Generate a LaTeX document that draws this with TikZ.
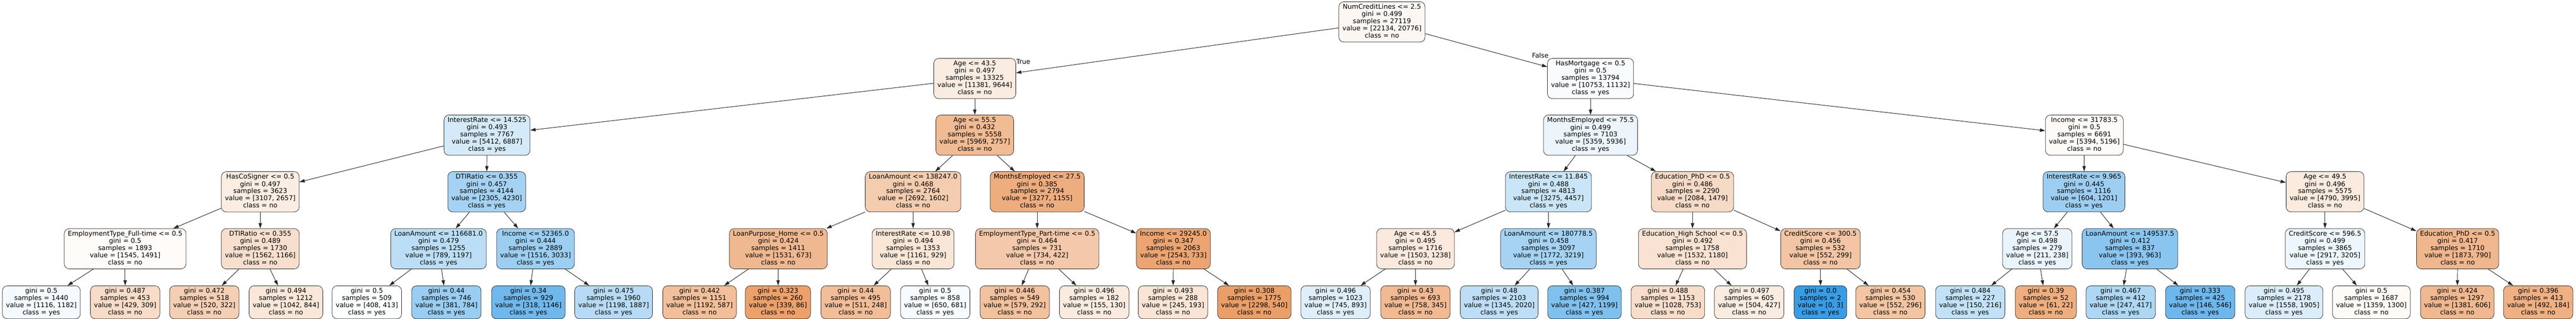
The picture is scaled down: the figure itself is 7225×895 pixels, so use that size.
\documentclass[tikz,border=0pt]{standalone}
\usepackage{fontspec}
\usepackage{xfp}
\setmainfont{DejaVu Sans}
\usetikzlibrary{arrows.meta}
\definecolor{cno}{RGB}{229,129,57}
\definecolor{cyes}{RGB}{57,157,229}
\tikzset{
  treenode/.style={draw=black!85, line width=1.1pt, rounded corners=14pt, align=center,
    inner xsep=10pt, inner ysep=6pt, anchor=north, font=\fontsize{18.5}{20}\selectfont},
  edgeline/.style={draw=black!85, line width=1.4pt, -{Triangle[length=15pt,width=9.5pt]}},
  edgelbl/.style={font=\fontsize{18.5}{20}\selectfont, inner sep=0pt}
}
% split node: name, x, top, condition, gini, samples, a, b
\newcommand\splitnode[8]{%
  \ifnum#7<#8\relax\def\cls{yes}\colorlet{tmpc}{cyes}\else\def\cls{no}\colorlet{tmpc}{cno}\fi
  \edef\alp{\fpeval{round(100*abs(#7-#8)/max(#7,#8),2)}}%
  \colorlet{nodefill}{tmpc!\alp!white}%
  \node[treenode, fill=nodefill] (#1) at (#2pt,-#3pt)
    {\strut#4\\gini = #5\\samples = #6\\value = [#7, #8]\\class = \cls\strut};
}
% leaf node: name, x, gini, samples, a, b
\newcommand\leafnode[6]{%
  \ifnum#5<#6\relax\def\cls{yes}\colorlet{tmpc}{cyes}\else\def\cls{no}\colorlet{tmpc}{cno}\fi
  \edef\alp{\fpeval{round(100*abs(#5-#6)/max(#5,#6),2)}}%
  \colorlet{nodefill}{tmpc!\alp!white}%
  \node[treenode, fill=nodefill] (#1) at (#2pt,-802pt)
    {\strut gini = #3\\samples = #4\\value = [#5, #6]\\class = \cls\strut};
}
\begin{document}
\begin{tikzpicture}
\fill[white] (0pt,0pt) rectangle (7225pt,-895pt);
\useasboundingbox (0pt,0pt) rectangle (7225pt,-895pt);
% level 0
\splitnode{root}{3876}{4.5}{NumCreditLines <= 2.5}{0.499}{27119}{22134}{20776}
% level 1
\splitnode{agea}{2734}{163.5}{Age <= 43.5}{0.497}{13325}{11381}{9644}
\splitnode{hasmort}{4461}{163.5}{HasMortgage <= 0.5}{0.5}{13794}{10753}{11132}
% level 2
\splitnode{ira}{1366}{322.5}{InterestRate <= 14.525}{0.493}{7767}{5412}{6887}
\splitnode{ageb}{2734}{322.5}{Age <= 55.5}{0.432}{5558}{5969}{2757}
\splitnode{mea}{4461}{322.5}{MonthsEmployed <= 75.5}{0.499}{7103}{5359}{5936}
\splitnode{inca}{5846}{322.5}{Income <= 31783.5}{0.5}{6691}{5394}{5196}
% level 3
\splitnode{hcs}{730}{481.5}{HasCoSigner <= 0.5}{0.497}{3623}{3107}{2657}
\splitnode{dtia}{1365}{481.5}{DTIRatio <= 0.355}{0.457}{4144}{2305}{4230}
\splitnode{laa}{2561}{481.5}{LoanAmount <= 138247.0}{0.468}{2764}{2692}{1602}
\splitnode{meb}{2909}{481.5}{MonthsEmployed <= 27.5}{0.385}{2794}{3277}{1155}
\splitnode{irb}{4343}{481.5}{InterestRate <= 11.845}{0.488}{4813}{3275}{4457}
\splitnode{phda}{4747}{481.5}{Education\_PhD <= 0.5}{0.486}{2290}{2084}{1479}
\splitnode{irc}{5845}{481.5}{InterestRate <= 9.965}{0.445}{1116}{604}{1201}
\splitnode{agec}{6521}{481.5}{Age <= 49.5}{0.496}{5575}{4790}{3995}
% level 4
\splitnode{etf}{351}{641.5}{EmploymentType\_Full-time <= 0.5}{0.5}{1893}{1545}{1491}
\splitnode{dtib}{730}{641.5}{DTIRatio <= 0.355}{0.489}{1730}{1562}{1166}
\splitnode{lab}{1230}{641.5}{LoanAmount <= 116681.0}{0.479}{1255}{789}{1197}
\splitnode{incb}{1502}{641.5}{Income <= 52365.0}{0.444}{2889}{1516}{3033}
\splitnode{lph}{2183}{641.5}{LoanPurpose\_Home <= 0.5}{0.424}{1411}{1531}{673}
\splitnode{ird}{2561}{641.5}{InterestRate <= 10.98}{0.494}{1353}{1161}{929}
\splitnode{etp}{2909}{641.5}{EmploymentType\_Part-time <= 0.5}{0.464}{731}{734}{422}
\splitnode{incc}{3291}{641.5}{Income <= 29245.0}{0.347}{2063}{2543}{733}
\splitnode{aged}{3970}{641.5}{Age <= 45.5}{0.495}{1716}{1503}{1238}
\splitnode{lac}{4343}{641.5}{LoanAmount <= 180778.5}{0.458}{3097}{1772}{3219}
\splitnode{edhs}{4747}{641.5}{Education\_High School <= 0.5}{0.492}{1758}{1532}{1180}
\splitnode{csa}{5106}{641.5}{CreditScore <= 300.5}{0.456}{532}{552}{299}
\splitnode{agee}{5714}{641.5}{Age <= 57.5}{0.498}{279}{211}{238}
\splitnode{lad}{5974}{641.5}{LoanAmount <= 149537.5}{0.412}{837}{393}{963}
\splitnode{csb}{6521}{641.5}{CreditScore <= 596.5}{0.499}{3865}{2917}{3205}
\splitnode{phdb}{6893}{641.5}{Education\_PhD <= 0.5}{0.417}{1710}{1873}{790}
% leaves
\leafnode{l1}{116}{0.5}{1440}{1116}{1182}
\leafnode{l2}{351}{0.487}{453}{429}{309}
\leafnode{l3}{573}{0.472}{518}{520}{322}
\leafnode{l4}{802}{0.494}{1212}{1042}{844}
\leafnode{l5}{1029}{0.5}{509}{408}{413}
\leafnode{l6}{1252}{0.44}{746}{381}{784}
\leafnode{l7}{1482}{0.34}{929}{318}{1146}
\leafnode{l8}{1721}{0.475}{1960}{1198}{1887}
\leafnode{l9}{1962}{0.442}{1151}{1192}{587}
\leafnode{l10}{2182}{0.323}{260}{339}{86}
\leafnode{l11}{2400}{0.44}{495}{511}{248}
\leafnode{l12}{2623}{0.5}{858}{650}{681}
\leafnode{l13}{2846}{0.446}{549}{579}{292}
\leafnode{l14}{3069}{0.496}{182}{155}{130}
\leafnode{l15}{3290}{0.493}{288}{245}{193}
\leafnode{l16}{3518}{0.308}{1775}{2298}{540}
\leafnode{l17}{3746}{0.496}{1023}{745}{893}
\leafnode{l18}{3970}{0.43}{693}{758}{345}
\leafnode{l19}{4205}{0.48}{2103}{1345}{2020}
\leafnode{l20}{4444}{0.387}{994}{427}{1199}
\leafnode{l21}{4678}{0.488}{1153}{1028}{753}
\leafnode{l22}{4906}{0.497}{605}{504}{427}
\leafnode{l23}{5106}{0.0}{2}{0}{3}
\leafnode{l24}{5302}{0.454}{530}{552}{296}
\leafnode{l25}{5526}{0.484}{227}{150}{216}
\leafnode{l26}{5738}{0.39}{52}{61}{22}
\leafnode{l27}{5948}{0.467}{412}{247}{417}
\leafnode{l28}{6171}{0.333}{425}{146}{546}
\leafnode{l29}{6406}{0.495}{2178}{1558}{1905}
\leafnode{l30}{6651}{0.5}{1687}{1359}{1300}
\leafnode{l31}{6892}{0.424}{1297}{1381}{606}
\leafnode{l32}{7119}{0.396}{413}{492}{184}
% edges
\draw[edgeline] (root) -- (agea);
\draw[edgeline] (root) -- (hasmort);
\draw[edgeline] (agea) -- (ira);
\draw[edgeline] (agea) -- (ageb);
\draw[edgeline] (hasmort) -- (mea);
\draw[edgeline] (hasmort) -- (inca);
\draw[edgeline] (ira) -- (hcs);
\draw[edgeline] (ira) -- (dtia);
\draw[edgeline] (ageb) -- (laa);
\draw[edgeline] (ageb) -- (meb);
\draw[edgeline] (mea) -- (irb);
\draw[edgeline] (mea) -- (phda);
\draw[edgeline] (inca) -- (irc);
\draw[edgeline] (inca) -- (agec);
\draw[edgeline] (hcs) -- (etf);
\draw[edgeline] (hcs) -- (dtib);
\draw[edgeline] (dtia) -- (lab);
\draw[edgeline] (dtia) -- (incb);
\draw[edgeline] (laa) -- (lph);
\draw[edgeline] (laa) -- (ird);
\draw[edgeline] (meb) -- (etp);
\draw[edgeline] (meb) -- (incc);
\draw[edgeline] (irb) -- (aged);
\draw[edgeline] (irb) -- (lac);
\draw[edgeline] (phda) -- (edhs);
\draw[edgeline] (phda) -- (csa);
\draw[edgeline] (irc) -- (agee);
\draw[edgeline] (irc) -- (lad);
\draw[edgeline] (agec) -- (csb);
\draw[edgeline] (agec) -- (phdb);
\draw[edgeline] (etf) -- (l1);
\draw[edgeline] (etf) -- (l2);
\draw[edgeline] (dtib) -- (l3);
\draw[edgeline] (dtib) -- (l4);
\draw[edgeline] (lab) -- (l5);
\draw[edgeline] (lab) -- (l6);
\draw[edgeline] (incb) -- (l7);
\draw[edgeline] (incb) -- (l8);
\draw[edgeline] (lph) -- (l9);
\draw[edgeline] (lph) -- (l10);
\draw[edgeline] (ird) -- (l11);
\draw[edgeline] (ird) -- (l12);
\draw[edgeline] (etp) -- (l13);
\draw[edgeline] (etp) -- (l14);
\draw[edgeline] (incc) -- (l15);
\draw[edgeline] (incc) -- (l16);
\draw[edgeline] (aged) -- (l17);
\draw[edgeline] (aged) -- (l18);
\draw[edgeline] (lac) -- (l19);
\draw[edgeline] (lac) -- (l20);
\draw[edgeline] (edhs) -- (l21);
\draw[edgeline] (edhs) -- (l22);
\draw[edgeline] (csa) -- (l23);
\draw[edgeline] (csa) -- (l24);
\draw[edgeline] (agee) -- (l25);
\draw[edgeline] (agee) -- (l26);
\draw[edgeline] (lad) -- (l27);
\draw[edgeline] (lad) -- (l28);
\draw[edgeline] (csb) -- (l29);
\draw[edgeline] (csb) -- (l30);
\draw[edgeline] (phdb) -- (l31);
\draw[edgeline] (phdb) -- (l32);
% edge labels
\node[edgelbl] (truelbl) at (2870pt,-174pt) {True};
\node[edgelbl] (falselbl) at (4320pt,-155pt) {False};
\end{tikzpicture}
\end{document}
